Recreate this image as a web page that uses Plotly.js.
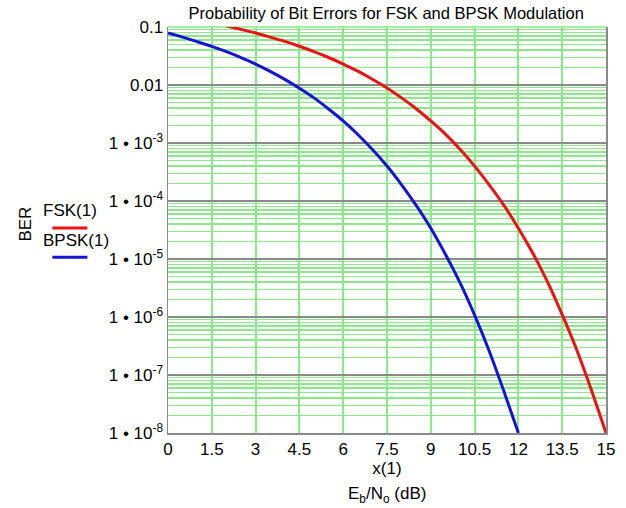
<!DOCTYPE html>
<html>
<head>
<meta charset="utf-8">
<script src="https://cdn.plot.ly/plotly-3.0.1.min.js"></script>
<style>html,body{margin:0;padding:0;background:#fff;}#chart{width:626px;height:508px;}</style>
</head>
<body>
<div id="chart"></div>
<script>
// Data
var fskX   = [2, 2.5, 3, 3.5, 4, 4.5, 5, 5.5, 6, 6.5, 7, 7.5, 8, 8.5, 9, 9.5, 10, 10.5, 11, 11.5, 12, 12.5, 13, 13.5, 14, 14.5, 15];
var fskBER = [0.104, 0.091, 0.079, 0.067, 0.0565, 0.0466, 0.0377, 0.0298, 0.023, 0.0173, 0.0126, 0.0089, 0.006, 0.0039,
              0.0024, 0.00142, 7.8e-4, 4.0e-4, 1.9e-4, 8.5e-5, 3.4e-5, 1.24e-5, 4.0e-6, 1.1e-6, 2.7e-7, 5.5e-8, 1.0e-8];
var bpskX   = [0, 0.5, 1, 1.5, 2, 2.5, 3, 3.5, 4, 4.5, 5, 5.5, 6, 6.5, 7, 7.5, 8, 8.5, 9, 9.5, 10, 10.5, 11, 11.5, 12];
var bpskBER = [0.079, 0.067, 0.056, 0.0464, 0.0375, 0.0297, 0.023, 0.0172, 0.0125, 0.0088, 0.006, 0.00386, 0.0024, 0.0014,
               7.7e-4, 4.0e-4, 1.9e-4, 8.4e-5, 3.4e-5, 1.21e-5, 3.9e-6, 1.08e-6, 2.6e-7, 5.3e-8, 1.0e-8];
var yTickVals = [1e-8, 1e-7, 1e-6, 1e-5, 1e-4, 1e-3, 0.01, 0.1];
var yTickText = ['1 \u2022 10<sup>-8</sup>', '1 \u2022 10<sup>-7</sup>', '1 \u2022 10<sup>-6</sup>', '1 \u2022 10<sup>-5</sup>',
                 '1 \u2022 10<sup>-4</sup>', '1 \u2022 10<sup>-3</sup>', '0.01', '0.1'];
var xTickVals = [0, 1.5, 3, 4.5, 6, 7.5, 9, 10.5, 12, 13.5, 15];
var xTickText = ['0', '1.5', '3', '4.5', '6', '7.5', '9', '10.5', '12', '13.5', '15'];

var green = '#8aea8a';
var gray = '#8a8a8a';
var font = 'Liberation Sans, Arial, sans-serif';

var traces = [
  {x: fskX, y: fskBER, type: 'scatter', mode: 'lines', name: 'FSK(1)',
   line: {color: '#ee1111', width: 3, shape: 'spline', smoothing: 0.6}},
  {x: bpskX, y: bpskBER, type: 'scatter', mode: 'lines', name: 'BPSK(1)',
   line: {color: '#1414d8', width: 3, shape: 'spline', smoothing: 0.6}}
];

var layout = {
  width: 626, height: 508,
  margin: {l: 168, r: 20, t: 27, b: 75},
  paper_bgcolor: '#fff', plot_bgcolor: '#fff',
  showlegend: false,
  font: {family: font, size: 17, color: '#000'},
  title: {text: 'Probability of Bit Errors for FSK and BPSK Modulation',
          font: {family: font, size: 16.5, color: '#000'},
          x: 0.617, xanchor: 'center', y: 0.973, yanchor: 'middle'},
  xaxis: {
    range: [0, 15], tickmode: 'array', tickvals: xTickVals, ticktext: xTickText,
    showgrid: true, gridcolor: green, gridwidth: 2,
    showline: true, linecolor: gray, linewidth: 1.5, mirror: false,
    ticks: '', zeroline: false,
    tickfont: {family: font, size: 17, color: '#000'},
    title: {text: 'x(1)', font: {family: font, size: 17, color: '#000'}, standoff: 4}
  },
  yaxis: {
    type: 'log', range: [-8, -1], tickmode: 'array', tickvals: yTickVals, ticktext: yTickText,
    showgrid: true, gridcolor: gray, gridwidth: 1.5,
    showline: true, linecolor: gray, linewidth: 1.5, mirror: true,
    ticks: '', zeroline: false,
    tickfont: {family: font, size: 17, color: '#000'},
    minor: {tickmode: 'linear', dtick: 'D1', showgrid: true, gridcolor: green, gridwidth: 1.5, ticks: ''}
  },
  annotations: [
    {text: 'BER', xref: 'paper', yref: 'paper', x: -0.325, y: 0.515, xanchor: 'center', yanchor: 'middle',
     textangle: -90, showarrow: false, font: {family: font, size: 17, color: '#000'}},
    {text: 'FSK(1)', xref: 'paper', yref: 'paper', x: -0.29, y: 0.549, xanchor: 'left', yanchor: 'middle',
     showarrow: false, font: {family: font, size: 17, color: '#000'}},
    {text: 'BPSK(1)', xref: 'paper', yref: 'paper', x: -0.29, y: 0.475, xanchor: 'left', yanchor: 'middle',
     showarrow: false, font: {family: font, size: 17, color: '#000'}},
    {text: 'E<sub>b</sub>/N<sub>o</sub> (dB)', xref: 'paper', yref: 'paper', x: 0.5, y: -0.152,
     xanchor: 'center', yanchor: 'middle', showarrow: false, font: {family: font, size: 17, color: '#000'}}
  ],
  shapes: [
    {type: 'line', xref: 'paper', yref: 'paper', x0: -0.264, x1: -0.184, y0: 0.505, y1: 0.505,
     line: {color: '#ee1111', width: 3}},
    {type: 'line', xref: 'paper', yref: 'paper', x0: -0.264, x1: -0.184, y0: 0.433, y1: 0.433,
     line: {color: '#1414d8', width: 3}},
    {type: 'line', xref: 'paper', yref: 'paper', x0: 0, x1: 1, y0: 1, y1: 1, layer: 'below',
     line: {color: green, width: 1.5}}
  ]
};

Plotly.newPlot('chart', traces, layout, {displayModeBar: false, staticPlot: true});
</script>
</body>
</html>
